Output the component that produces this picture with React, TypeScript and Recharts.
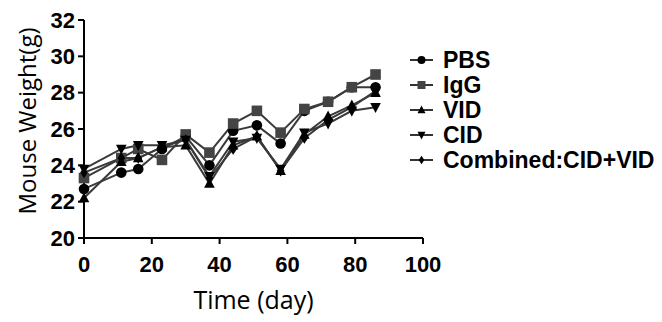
import { LineChart, Line, XAxis, YAxis } from 'recharts';

const days = [0, 11, 16, 23, 30, 37, 44, 51, 58, 65, 72, 79, 86];
const pbs = [22.7, 23.6, 23.8, 24.9, 25.6, 24.0, 25.9, 26.2, 25.2, 27.0, 27.5, 28.3, 28.3];
const igg = [23.3, 24.4, 24.9, 24.3, 25.7, 24.7, 26.3, 27.0, 25.8, 27.1, 27.5, 28.3, 29.0];
const vid = [22.2, 24.2, 24.4, 25.0, 25.1, 23.0, 25.1, 25.6, 23.7, 25.7, 26.7, 27.3, 28.0];
const cid = [23.8, 24.9, 25.1, 25.1, 25.4, 23.4, 25.3, 25.5, 23.8, 25.8, 26.3, 27.0, 27.2];
const combined = [23.6, 24.4, 24.4, 25.0, 25.4, 23.3, 24.9, 25.6, 23.7, 25.5, 26.5, 27.2, 28.1];

const xTicks = [0, 20, 40, 60, 80, 100];
const yTicks = [20, 22, 24, 26, 28, 30, 32];

const data = days.map((d, i) => ({
  day: d,
  pbs: pbs[i],
  igg: igg[i],
  vid: vid[i],
  cid: cid[i],
  combined: combined[i],
}));

type Shape = 'circle' | 'square' | 'up' | 'down' | 'diamond';

const seriesList: { key: string; name: string; shape: Shape; color: string }[] = [
  { key: 'pbs', name: 'PBS', shape: 'circle', color: '#000' },
  { key: 'igg', name: 'IgG', shape: 'square', color: '#444' },
  { key: 'vid', name: 'VID', shape: 'up', color: '#000' },
  { key: 'cid', name: 'CID', shape: 'down', color: '#000' },
  { key: 'combined', name: 'Combined:CID+VID', shape: 'diamond', color: '#000' },
];

function Marker({ cx, cy, shape, color, s }: { cx: number; cy: number; shape: Shape; color: string; s: number }) {
  if (cx == null || cy == null) return null;
  switch (shape) {
    case 'circle':
      return <circle cx={cx} cy={cy} r={s} fill={color} />;
    case 'square':
      return <rect x={cx - s} y={cy - s} width={s * 2} height={s * 2} fill={color} />;
    case 'up':
      return <polygon points={`${cx},${cy - s * 1.1} ${cx - s},${cy + s * 0.8} ${cx + s},${cy + s * 0.8}`} fill={color} />;
    case 'down':
      return <polygon points={`${cx},${cy + s * 1.1} ${cx - s},${cy - s * 0.8} ${cx + s},${cy - s * 0.8}`} fill={color} />;
    default:
      return <polygon points={`${cx},${cy - s * 1.2} ${cx + s * 0.8},${cy} ${cx},${cy + s * 1.2} ${cx - s * 0.8},${cy}`} fill={color} />;
  }
}

const boldFont = 'Liberation Sans, Arial, sans-serif';
const tickFont = { fontFamily: boldFont, fontWeight: 'bold', fontSize: 22, fill: '#000' };

function LegendBox() {
  return (
    <svg width={262} height={130} style={{ position: 'absolute', left: 405, top: 48 }}>
      {seriesList.map((s, i) => {
        const y = 12 + i * 25;
        return (
          <g key={s.key}>
            <line x1={5} x2={28} y1={y} y2={y} stroke="#333" strokeWidth={2} />
            <Marker cx={16.5} cy={y} shape={s.shape} color={s.color} s={s.shape === 'diamond' ? 3.5 : 4} />
            <text x={38} y={y + 8} style={{ fontFamily: boldFont, fontWeight: 'bold', fontSize: 23 }} fill="#000">
              {s.name}
            </text>
          </g>
        );
      })}
    </svg>
  );
}

function YLabel({ viewBox }: any) {
  const cy = viewBox.y + viewBox.height / 2 - 8;
  return (
    <text
      x={36}
      y={cy}
      transform={`rotate(-90, 36, ${cy})`}
      textAnchor="middle"
      style={{ fontFamily: 'Open Sans, sans-serif', fontSize: 24 }}
      fill="#000"
    >
      Mouse Weight(g)
    </text>
  );
}

export default function App() {
  return (
    <div style={{ position: 'absolute', left: 0, top: 0, width: 662, height: 322, background: '#fff' }}>
      <LineChart width={662} height={322} data={data} margin={{ top: 20, right: 239, bottom: 0, left: 0 }}>
        <XAxis
          dataKey="day"
          type="number"
          domain={[0, 100]}
          ticks={xTicks}
          stroke="#000"
          strokeWidth={2}
          tickSize={6}
          tickMargin={12}
          tick={tickFont}
          height={84}
          label={{ value: 'Time (day)', position: 'insideBottom', offset: 13, style: { fontFamily: 'Open Sans, sans-serif', fontSize: 25, fill: '#000' } }}
        />
        <YAxis
          type="number"
          domain={[20, 32]}
          ticks={yTicks}
          stroke="#000"
          strokeWidth={2}
          tickSize={6}
          tickMargin={3}
          tick={tickFont}
          width={84}
          label={<YLabel />}
        />
        {seriesList.map((s) => (
          <Line
            key={s.key}
            dataKey={s.key}
            name={s.name}
            type="linear"
            stroke="#3a3a3a"
            strokeWidth={2}
            isAnimationActive={false}
            dot={(p: any) => (
              <Marker key={`${s.key}-${p.index}`} cx={p.cx} cy={p.cy} shape={s.shape} color={s.color} s={s.shape === 'diamond' ? 4.8 : 5.3} />
            )}
            activeDot={false}
          />
        ))}
      </LineChart>
      <LegendBox />
    </div>
  );
}
